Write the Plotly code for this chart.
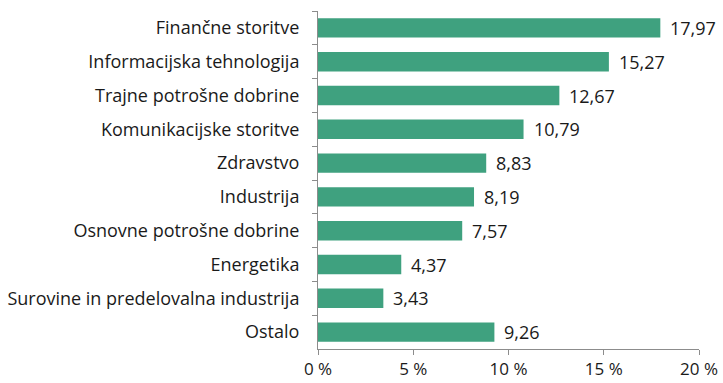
import plotly.graph_objects as go

# Sector shares (%)
sectors = [
    "Finančne storitve",
    "Informacijska tehnologija",
    "Trajne potrošne dobrine",
    "Komunikacijske storitve",
    "Zdravstvo",
    "Industrija",
    "Osnovne potrošne dobrine",
    "Energetika",
    "Surovine in predelovalna industrija",
    "Ostalo",
]
shares = [17.97, 15.27, 12.67, 10.79, 8.83, 8.19, 7.57, 4.37, 3.43, 9.26]

x_ticks = [0, 5, 10, 15, 20]
x_tick_labels = ["0 %", "5 %", "10 %", "15 %", "20 %"]

FONT = "Open Sans"
FSIZE = 18
TEXT_COLOR = "#1a1a1a"
BAR_COLOR = "#3FA17F"
AXIS_COLOR = "#8C8C8C"

fig = go.Figure(
    go.Bar(
        x=shares,
        y=sectors,
        orientation="h",
        marker=dict(color=BAR_COLOR, line=dict(width=0)),
        hoverinfo="skip",
    )
)

# value labels to the right of each bar
for name, v in zip(sectors, shares):
    fig.add_annotation(
        x=v,
        y=name,
        text=f"{v:.2f}".replace(".", ","),
        showarrow=False,
        xanchor="left",
        xshift=8,
        font=dict(family=FONT, size=FSIZE, color=TEXT_COLOR),
    )

fig.update_layout(
    width=723,
    height=383,
    margin=dict(l=318, r=24, t=11, b=34),
    paper_bgcolor="white",
    plot_bgcolor="white",
    bargap=0.425,
    showlegend=False,
    font=dict(family=FONT, size=FSIZE, color=TEXT_COLOR),
)

fig.update_xaxes(
    range=[0, 20],
    tickvals=x_ticks,
    ticktext=x_tick_labels,
    automargin=False,
    showgrid=False,
    zeroline=False,
    showline=True,
    linecolor=AXIS_COLOR,
    linewidth=1,
    ticks="outside",
    ticklen=5,
    tickcolor=AXIS_COLOR,
    ticklabelstandoff=0,
    tickfont=dict(family=FONT, size=17, color=TEXT_COLOR),
)

fig.update_yaxes(
    autorange="reversed",
    automargin=False,
    showgrid=False,
    showline=True,
    linecolor=AXIS_COLOR,
    linewidth=1,
    ticks="outside",
    tickson="boundaries",
    ticklen=5,
    tickcolor=AXIS_COLOR,
    ticklabelstandoff=14,
    tickfont=dict(family=FONT, size=FSIZE, color=TEXT_COLOR),
)

fig.write_html("out.html")
